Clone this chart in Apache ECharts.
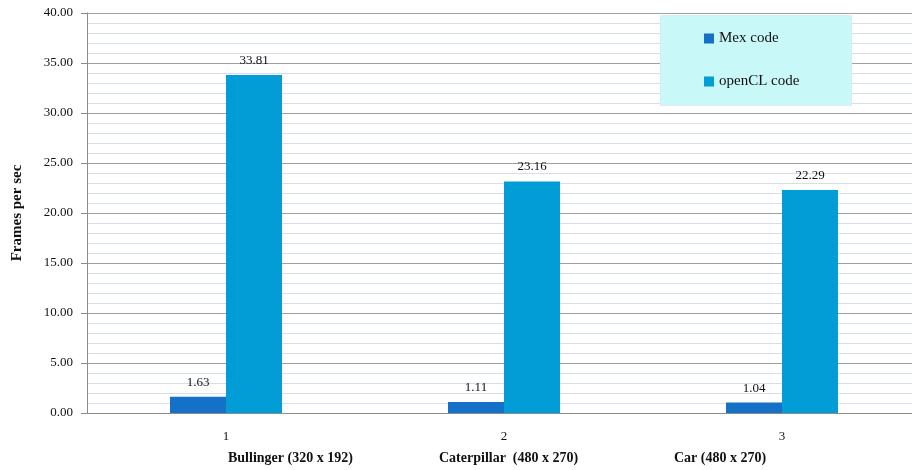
<!DOCTYPE html>
<html>
<head>
<meta charset="utf-8">
<script src="https://cdn.jsdelivr.net/npm/echarts@6/dist/echarts.min.js"></script>
<style>
  html, body { margin: 0; padding: 0; background: #fff; }
  #chart { width: 912px; height: 470px; }
</style>
</head>
<body>
<div id="chart"></div>
<script>
// Frame rates per test video, Mex implementation vs. openCL implementation
const categories = ['1', '2', '3'];
const captions = ['Bullinger (320 x 192)', 'Caterpillar  (480 x 270)', 'Car (480 x 270)'];
const mexCode = [1.63, 1.11, 1.04];
const openclCode = [33.81, 23.16, 22.29];
const yTicks = { min: 0, max: 40, step: 5 };

const FONT = '"Liberation Serif", serif';

const chart = echarts.init(document.getElementById('chart'), null, { renderer: 'canvas' });

const labelStyle = {
  show: true,
  position: 'top',
  distance: 8,
  color: '#111',
  fontFamily: FONT,
  fontSize: 13,
  formatter: p => p.value.toFixed(2)
};

chart.setOption({
  animation: false,
  textStyle: { fontFamily: FONT },
  // plot area runs slightly past the right edge of the canvas
  grid: { left: 87, top: 13, width: 834, height: 400, containLabel: false, outerBoundsMode: 'none' },
  legend: {
    orient: 'vertical',
    left: 699,
    top: 26,
    z: 10,
    itemWidth: 10,
    itemHeight: 10,
    itemGap: 28,
    icon: 'rect',
    textStyle: { fontFamily: FONT, fontSize: 15, color: '#111' },
    data: ['Mex code', 'openCL code']
  },
  graphic: [
    {
      type: 'rect',
      left: 660, top: 15, z: 5,
      shape: { width: 191, height: 90 },
      style: { fill: '#c8f8f8', stroke: '#d8eef0', lineWidth: 1 }
    },
    ...captions.map((t, i) => ({
      type: 'text',
      z: 10,
      left: [228, 439, 674][i],
      top: 451,
      style: { text: t, fontFamily: FONT, fontSize: 14, fontWeight: 'bold', fill: '#111' }
    }))
  ],
  xAxis: {
    type: 'category',
    data: categories,
    axisLine: { lineStyle: { color: '#8c8c8c', width: 1 } },
    axisTick: { show: false },
    axisLabel: { margin: 17, color: '#111', fontFamily: FONT, fontSize: 13 },
    splitLine: { show: false }
  },
  yAxis: {
    type: 'value',
    min: yTicks.min,
    max: yTicks.max,
    interval: yTicks.step,
    name: 'Frames per sec',
    nameLocation: 'middle',
    nameGap: 62,
    nameTextStyle: { fontFamily: FONT, fontSize: 15, fontWeight: 'bold', color: '#111' },
    axisLine: { show: true, lineStyle: { color: '#8c8c8c', width: 1 } },
    axisTick: { show: true, length: 6, lineStyle: { color: '#8c8c8c' } },
    axisLabel: { margin: 14, color: '#111', fontFamily: FONT, fontSize: 13, formatter: v => v.toFixed(2) },
    splitLine: { show: true, lineStyle: { color: '#a0a0a0', width: 1 } },
    minorTick: { show: false, splitNumber: 5 },
    minorSplitLine: { show: true, lineStyle: { color: '#d5deea', width: 1 } }
  },
  series: [
    {
      name: 'Mex code',
      type: 'bar',
      data: mexCode,
      barWidth: 56,
      barGap: '0%',
      itemStyle: { color: '#1570c8' },
      label: labelStyle
    },
    {
      name: 'openCL code',
      type: 'bar',
      data: openclCode,
      barWidth: 56,
      barGap: '0%',
      itemStyle: { color: '#029cd7' },
      label: labelStyle
    }
  ]
});
</script>
</body>
</html>
